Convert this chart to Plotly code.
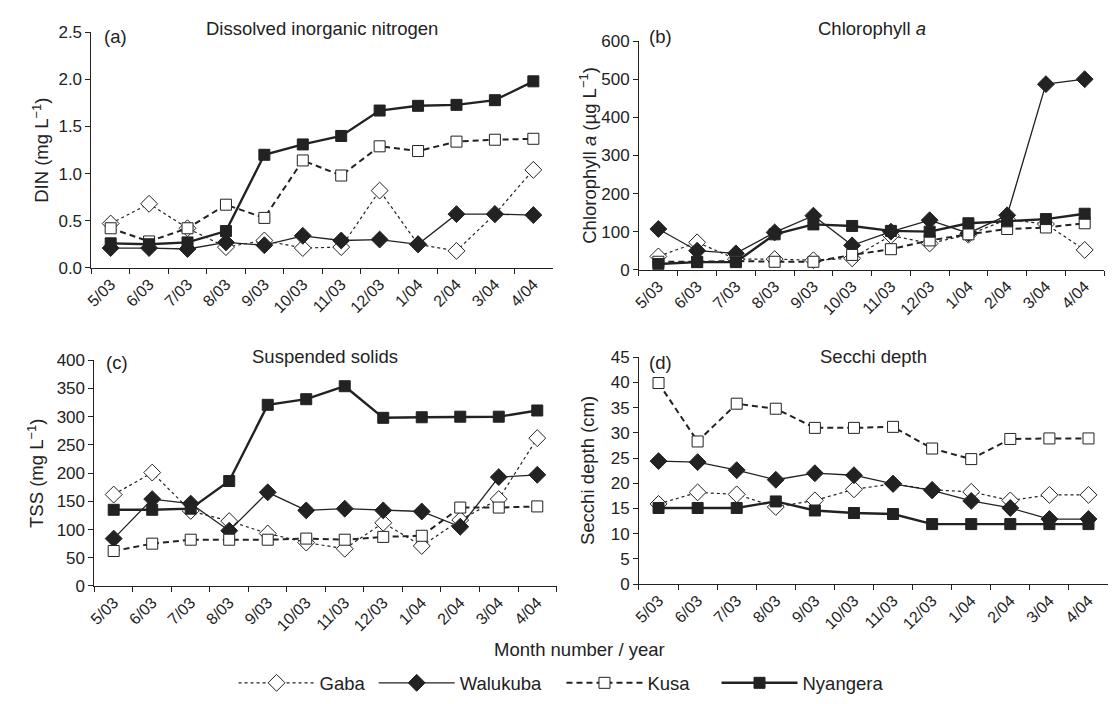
import plotly.graph_objects as go

months = ["5/03", "6/03", "7/03", "8/03", "9/03", "10/03", "11/03", "12/03", "1/04", "2/04", "3/04", "4/04"]
sites = ["Gaba", "Walukuba", "Kusa", "Nyangera"]

din = {
    "Gaba":     [0.47, 0.68, 0.42, 0.22, 0.29, 0.21, 0.22, 0.82, 0.25, 0.18, 0.57, 1.04],
    "Walukuba": [0.21, 0.21, 0.20, 0.27, 0.24, 0.34, 0.29, 0.30, 0.25, 0.57, 0.57, 0.56],
    "Kusa":     [0.42, 0.28, 0.42, 0.67, 0.53, 1.14, 0.98, 1.29, 1.24, 1.34, 1.36, 1.37],
    "Nyangera": [0.26, 0.25, 0.27, 0.39, 1.20, 1.31, 1.40, 1.67, 1.72, 1.73, 1.78, 1.98],
}
chla = {
    "Gaba":     [35, 72, 28, 28, 25, 30, 90, 69, 92, 132, 120, 52],
    "Walukuba": [107, 50, 43, 98, 142, 64, 100, 130, 96, 143, 487, 500],
    "Kusa":     [21, 21, 23, 21, 21, 39, 54, 77, 93, 107, 111, 122],
    "Nyangera": [15, 20, 20, 93, 119, 115, 102, 100, 122, 127, 133, 147],
}
tss = {
    "Gaba":     [162, 201, 133, 115, 93, 77, 66, 112, 71, 117, 154, 262],
    "Walukuba": [84, 154, 146, 98, 166, 134, 137, 134, 132, 105, 193, 197],
    "Kusa":     [62, 75, 82, 82, 82, 84, 82, 87, 89, 139, 139, 141],
    "Nyangera": [135, 135, 137, 186, 321, 331, 354, 298, 299, 300, 300, 311],
}
secchi = {
    "Gaba":     [15.9, 18.2, 17.8, 15.3, 16.6, 18.8, 19.9, 18.7, 18.3, 16.6, 17.7, 17.7],
    "Walukuba": [24.4, 24.2, 22.6, 20.7, 22.0, 21.6, 19.9, 18.6, 16.5, 15.1, 12.9, 12.9],
    "Kusa":     [39.9, 28.3, 35.8, 34.8, 31.0, 31.0, 31.2, 26.9, 24.8, 28.8, 28.9, 28.9],
    "Nyangera": [15.1, 15.1, 15.1, 16.4, 14.6, 14.1, 13.9, 11.9, 11.9, 11.9, 11.9, 11.9],
}

panels = [
    ("(a)", "Dissolved inorganic nitrogen", "DIN (mg L<sup>−1</sup>)", din, [0, 2.5], 0.5, ".1f"),
    ("(b)", "Chlorophyll <i>a</i>", "Chlorophyll <i>a</i> (µg L<sup>−1</sup>)", chla, [0, 600], 100, "d"),
    ("(c)", "Suspended solids", "TSS (mg L<sup>−1</sup>)", tss, [0, 400], 50, "d"),
    ("(d)", "Secchi depth", "Secchi depth (cm)", secchi, [0, 45], 5, "d"),
]

W, H = 1112, 704


def fx(x):
    return x / W


def fy(y):
    return 1 - y / H


# pixel boxes (left, right, top, bottom)
boxes = [(85, 549, 24, 266), (636, 1104, 33, 268), (88, 553, 361, 593), (636, 1108, 358, 591)]
ytitle_x = [34, 585, 29, 584]
label_dx = [11, 8, 9.5, 8]
label_y = [28.5, 28.5, 363, 363]
title_y = [20, 20, 357, 357]
legend_x = [228, 369, 558, 714]

styles = {
    "Gaba": dict(line=dict(color="#222", width=1.2, dash="3px,3px"),
                 marker=dict(symbol="diamond", size=13, color="white", line=dict(color="#222", width=1))),
    "Walukuba": dict(line=dict(color="#222", width=1.3),
                     marker=dict(symbol="diamond", size=13, color="#222", line=dict(color="#222", width=1))),
    "Kusa": dict(line=dict(color="#222", width=2.0, dash="6px,4px"),
                 marker=dict(symbol="square", size=11, color="white", line=dict(color="#222", width=1))),
    "Nyangera": dict(line=dict(color="#222", width=2.4),
                     marker=dict(symbol="square", size=11, color="#222", line=dict(color="#222", width=1))),
}

FONT = "Liberation Sans, Arial, sans-serif"
fig = go.Figure()
layout = dict(width=W, height=H, margin=dict(l=0, r=0, t=0, b=0),
              plot_bgcolor="white", paper_bgcolor="white",
              font=dict(family=FONT, color="#222", size=17))
annotations = []

for i, (lab, title, ytitle, data, yr, dt, fmt) in enumerate(panels):
    n = "" if i == 0 else str(i + 1)
    l, r, t, b = boxes[i]
    for j, s in enumerate(sites):
        lg = "legend" if j == 0 else "legend" + str(j + 1)
        fig.add_trace(go.Scatter(x=months, y=data[s], name=s, mode="lines+markers",
                                 xaxis="x" + n, yaxis="y" + n, showlegend=(i == 0),
                                 legend=lg, **styles[s]))
    layout["xaxis" + n] = dict(domain=[fx(l), fx(r)], anchor="y" + n, type="category",
                               categoryorder="array", categoryarray=months,
                               range=[-0.5, 11.5], tickson="boundaries", ticks="outside",
                               ticklen=5, tickcolor="#222", showline=True, linecolor="#222",
                               linewidth=1, showgrid=False, zeroline=False, tickangle=-45,
                               tickfont=dict(size=16, family=FONT, color="#222"))
    layout["yaxis" + n] = dict(domain=[fy(b), fy(t)], anchor="x" + n, range=yr, dtick=dt, tick0=0,
                               tickformat=fmt, ticks="outside", ticklen=5, tickcolor="#222",
                               showline=True, linecolor="#222", linewidth=1, showgrid=False,
                               zeroline=False, tickfont=dict(size=17, family=FONT, color="#222"))
    annotations.append(dict(text=lab, x=fx(l + label_dx[i]), y=fy(label_y[i]), xref="paper", yref="paper",
                            xanchor="left", yanchor="middle", showarrow=False,
                            font=dict(size=18.5, family=FONT, color="#222")))
    annotations.append(dict(text=title, x=fx((l + r) / 2), y=fy(title_y[i]), xref="paper", yref="paper",
                            xanchor="center", yanchor="middle", showarrow=False,
                            font=dict(size=18.5, family=FONT, color="#222")))
    annotations.append(dict(text=ytitle, x=fx(ytitle_x[i]), y=fy((t + b) / 2), xref="paper",
                            yref="paper", xanchor="center", yanchor="middle", textangle=-90,
                            showarrow=False, font=dict(size=18.5, family=FONT, color="#222")))

annotations.append(dict(text="Month number / year", x=fx(576), y=fy(658), xref="paper", yref="paper",
                        xanchor="center", yanchor="middle", showarrow=False,
                        font=dict(size=18.5, family=FONT, color="#222")))

layout["annotations"] = annotations
for j in range(4):
    key = "legend" if j == 0 else "legend" + str(j + 1)
    layout[key] = dict(orientation="h", x=fx(legend_x[j]), xanchor="left", y=fy(693),
                       yanchor="middle", font=dict(size=18.5, family=FONT, color="#222"),
                       itemwidth=76, bgcolor="rgba(0,0,0,0)", borderwidth=0)
fig.update_layout(**layout)
fig.write_html("out.html")
